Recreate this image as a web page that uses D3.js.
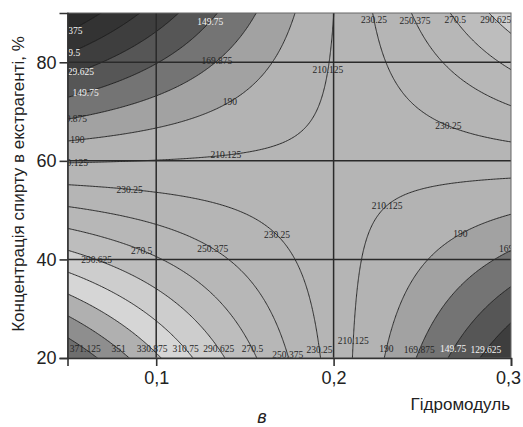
<!DOCTYPE html>
<html>
<head>
<meta charset="utf-8">
<script src="https://cdn.jsdelivr.net/npm/d3@7"></script>
<style>
body { margin: 0; background: #fff; }
text { font-family: "Liberation Sans", Arial, sans-serif; }
</style>
</head>
<body>
<div id="chart"></div>
<script>
// response surface in coded factors u (hydromodule) and v (alcohol, %)
// y = b0 + b1*u + b2*v + b12*u*v
var coefs = [218.5, -12.5, -31.5, 127.5];
var xCenter = 0.175, xStep = 0.125;
var yCenter = 55, yStep = 35;

var xRange = [0.05, 0.3];
var yRange = [20, 90];
var xTicks = [0.1, 0.2, 0.3];
var yTicks = [20, 40, 60, 80];

var levels = [89.375, 109.5, 129.625, 149.75, 169.875, 190, 210.125, 230.25,
              250.375, 270.5, 290.625, 310.75, 330.875, 351, 371.125];
// fill for each band, from below the first level up to above the last
var bandColors = ['#2b2b2b', '#333333', '#3e3e3e', '#565656', '#747474', '#a2a2a2',
                  '#b3b3b3', '#b5b5b5', '#b5b5b5', '#b7b7b7', '#bdbdbd', '#cdcdcd',
                  '#d6d6d6', '#b0b0b0', '#8e8e8e', '#6e6e6e'];

// where the isoline labels sit: [level, fixed axis, value on that axis]
var labelSpots = [
    [89.375, 'x', 0.0511], [109.5, 'x', 0.0511], [129.625, 'x', 0.0562], [149.75, 'x', 0.0602],
    [169.875, 'x', 0.0523], [190, 'x', 0.0556], [210.125, 'x', 0.0528], [290.625, 'x', 0.0664],
    [169.875, 'x', 0.1342], [190, 'x', 0.1415], [210.125, 'x', 0.1393], [230.25, 'x', 0.085],
    [270.5, 'x', 0.0918], [250.375, 'x', 0.1319], [230.25, 'x', 0.1681], [210.125, 'x', 0.2302],
    [190, 'x', 0.2715], [169.875, 'x', 0.302], [230.25, 'x', 0.2647],
    [210.125, 'y', 78.4], [149.75, 'y', 88.3],
    [230.25, 'y', 88.6], [250.375, 'y', 88.4], [270.5, 'y', 88.6], [290.625, 'y', 88.6],
    [371.125, 'y', 21.8], [351, 'y', 21.8], [330.875, 'y', 21.8], [310.75, 'y', 21.8],
    [290.625, 'y', 21.9], [270.5, 'y', 21.8], [250.375, 'y', 20.6], [230.25, 'y', 21.7],
    [210.125, 'y', 23.6], [190, 'y', 21.8], [169.875, 'y', 21.6], [149.75, 'y', 21.8],
    [129.625, 'y', 21.6]
];

var width = 523, height = 427;
var margin = {top: 13, right: 12, bottom: 69, left: 67.5};

var svg = d3.select('#chart').append('svg')
    .attr('width', width)
    .attr('height', height);

var x = d3.scaleLinear().domain(xRange).range([margin.left, width - margin.right]);
var y = d3.scaleLinear().domain(yRange).range([height - margin.bottom, margin.top]);

function model(xv, yv) {
    var u = (xv - xCenter) / xStep, v = (yv - yCenter) / yStep;
    return coefs[0] + coefs[1] * u + coefs[2] * v + coefs[3] * u * v;
}

// sample on a grid a bit larger than the plot so the outer edge is clipped away
var nx = 320, ny = 320;
var gx0 = 0.04, gx1 = 0.31, gy0 = 17, gy1 = 93;
var dx = (gx1 - gx0) / nx, dy = (gy1 - gy0) / ny;
var values = new Array(nx * ny);
for (var j = 0; j < ny; j++) {
    for (var i = 0; i < nx; i++) {
        values[j * nx + i] = model(gx0 + (i + 0.5) * dx, gy0 + (j + 0.5) * dy);
    }
}

var contours = d3.contours().size([nx, ny]).thresholds(levels)(values);

var path = d3.geoPath(d3.geoTransform({
    point: function (px, py) {
        this.stream.point(x(gx0 + px * dx), y(gy0 + py * dy));
    }
}));

svg.append('clipPath').attr('id', 'plot-clip')
    .append('rect')
    .attr('x', x(xRange[0])).attr('y', y(yRange[1]))
    .attr('width', x(xRange[1]) - x(xRange[0]))
    .attr('height', y(yRange[0]) - y(yRange[1]));

var plot = svg.append('g').attr('clip-path', 'url(#plot-clip)');

plot.append('rect')
    .attr('x', x(xRange[0])).attr('y', y(yRange[1]))
    .attr('width', x(xRange[1]) - x(xRange[0]))
    .attr('height', y(yRange[0]) - y(yRange[1]))
    .style('fill', bandColors[0]);

plot.selectAll('path.band')
    .data(contours)
    .enter()
    .append('path')
    .attr('class', 'band')
    .attr('d', path)
    .style('fill', function (d, i) { return bandColors[i + 1]; })
    .style('stroke', 'none');

plot.selectAll('path.iso')
    .data(contours)
    .enter()
    .append('path')
    .attr('class', 'iso')
    .attr('d', path)
    .style('fill', 'none')
    .style('stroke', '#1e1e1e')
    .style('stroke-width', 0.9);

// grid lines
plot.selectAll('line.vgrid')
    .data([0.1, 0.2])
    .enter()
    .append('line')
    .attr('x1', function (d) { return x(d); })
    .attr('x2', function (d) { return x(d); })
    .attr('y1', y(yRange[0])).attr('y2', y(yRange[1]))
    .style('stroke', '#2a2a2a').style('stroke-width', 1.5);

plot.selectAll('line.hgrid')
    .data([40, 60, 80])
    .enter()
    .append('line')
    .attr('x1', x(xRange[0])).attr('x2', x(xRange[1]))
    .attr('y1', function (d) { return y(d); })
    .attr('y2', function (d) { return y(d); })
    .style('stroke', '#2a2a2a').style('stroke-width', 1.5);

// labels on the isolines
function labelPos(s) {
    var lv = s[0], u, v;
    if (s[1] === 'x') {
        u = (s[2] - xCenter) / xStep;
        v = (lv - coefs[0] - coefs[1] * u) / (coefs[2] + coefs[3] * u);
    } else {
        v = (s[2] - yCenter) / yStep;
        u = (lv - coefs[0] - coefs[2] * v) / (coefs[1] + coefs[3] * v);
    }
    return [x(xCenter + u * xStep), y(yCenter + v * yStep)];
}

plot.selectAll('text.lbl')
    .data(labelSpots)
    .enter()
    .append('text')
    .attr('class', 'lbl')
    .attr('x', function (d) { return labelPos(d)[0]; })
    .attr('y', function (d) { return labelPos(d)[1]; })
    .attr('dy', '0.35em')
    .attr('text-anchor', 'middle')
    .style('font-family', '"Liberation Serif", "Times New Roman", serif')
    .style('font-size', '9.5px')
    .style('fill', function (d) { return d[0] <= 149.75 ? '#f4f4f4' : '#262626'; })
    .text(function (d) { return d[0]; });

// frame
svg.append('rect')
    .attr('x', x(xRange[0])).attr('y', y(yRange[1]))
    .attr('width', x(xRange[1]) - x(xRange[0]))
    .attr('height', y(yRange[0]) - y(yRange[1]))
    .style('fill', 'none')
    .style('stroke', '#666')
    .style('stroke-width', 1);

// axes
var xAxis = d3.axisBottom(x)
    .tickValues(xTicks)
    .tickSize(8)
    .tickPadding(5)
    .tickFormat(function (d) { return d3.format('.1f')(d).replace('.', ','); });

var yAxis = d3.axisLeft(y)
    .tickValues(yTicks)
    .tickSize(8)
    .tickPadding(3)
    .tickFormat(d3.format('d'));

var gx = svg.append('g')
    .attr('transform', 'translate(0,' + y(yRange[0]) + ')')
    .call(xAxis);
var gy = svg.append('g')
    .attr('transform', 'translate(' + x(xRange[0]) + ',0)')
    .call(yAxis);

[gx, gy].forEach(function (g) {
    g.selectAll('path.domain').style('stroke', '#333').style('stroke-width', 1.6);
    g.selectAll('.tick line').style('stroke', '#333').style('stroke-width', 1.6);
    g.selectAll('.tick text')
        .style('font-family', '"Liberation Sans", Arial, sans-serif')
        .style('font-size', '18px')
        .style('fill', '#222');
});

// last x tick label sits against the right edge of the page
gx.selectAll('.tick text')
    .filter(function (d) { return d === xTicks[xTicks.length - 1]; })
    .attr('dx', '-3px');

svg.append('text')
    .attr('x', 510)
    .attr('y', 410)
    .attr('text-anchor', 'end')
    .style('font-size', '17px')
    .style('fill', '#222')
    .text('Гідромодуль');

svg.append('text')
    .attr('transform', 'translate(24,184) rotate(-90)')
    .attr('text-anchor', 'middle')
    .style('font-size', '17px')
    .style('fill', '#222')
    .text('Концентрація спирту в екстрагенті, %');

svg.append('text')
    .attr('x', 262)
    .attr('y', 423)
    .attr('text-anchor', 'middle')
    .style('font-size', '18px')
    .style('font-style', 'italic')
    .style('fill', '#222')
    .text('в');
</script>
</body>
</html>
